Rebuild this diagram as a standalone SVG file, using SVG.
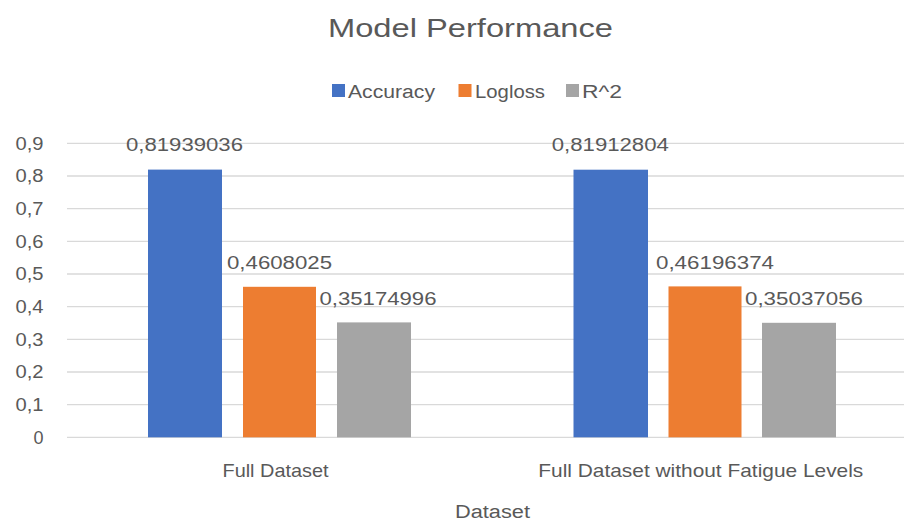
<svg xmlns="http://www.w3.org/2000/svg" width="904" height="521" viewBox="0 0 904 521">
  <style>
    text { font-family: "Liberation Sans", Arial, sans-serif; fill: #595959; }
    .grid { stroke: #D9D9D9; stroke-width: 1.3; }
    .ytick { font-size: 18px; text-anchor: end; }
    .dlab { font-size: 18px; text-anchor: middle; }
    .cat { font-size: 19px; text-anchor: middle; }
    .leg { font-size: 18px; }
    .acc { fill: #4472C4; }
    .log { fill: #ED7D31; }
    .r2 { fill: #A5A5A5; }
  </style>
  <rect width="904" height="521" fill="#FFFFFF"/>

  <g id="title">
    <text x="470.5" y="37" font-size="26" text-anchor="middle" textLength="285" lengthAdjust="spacingAndGlyphs">Model Performance</text>
  </g>

  <g id="legend">
    <rect class="acc" x="332" y="84" width="13" height="13"/>
    <text class="leg" x="348" y="98" textLength="87" lengthAdjust="spacingAndGlyphs">Accuracy</text>
    <rect class="log" x="458.5" y="84" width="13" height="13"/>
    <text class="leg" x="475" y="98" textLength="70" lengthAdjust="spacingAndGlyphs">Logloss</text>
    <rect class="r2" x="566" y="84" width="13" height="13"/>
    <text class="leg" x="582" y="98" textLength="40" lengthAdjust="spacingAndGlyphs">R^2</text>
  </g>

  <g id="gridlines">
    <line class="grid" x1="67" y1="437.3" x2="904" y2="437.3"/>
    <line class="grid" x1="67" y1="404.6" x2="904" y2="404.6"/>
    <line class="grid" x1="67" y1="372" x2="904" y2="372"/>
    <line class="grid" x1="67" y1="339.3" x2="904" y2="339.3"/>
    <line class="grid" x1="67" y1="306.6" x2="904" y2="306.6"/>
    <line class="grid" x1="67" y1="274" x2="904" y2="274"/>
    <line class="grid" x1="67" y1="241.3" x2="904" y2="241.3"/>
    <line class="grid" x1="67" y1="208.6" x2="904" y2="208.6"/>
    <line class="grid" x1="67" y1="176" x2="904" y2="176"/>
    <line class="grid" x1="67" y1="143.3" x2="904" y2="143.3"/>
  </g>

  <g id="y-axis">
    <text class="ytick" x="43.5" y="443.5">0</text>
    <text class="ytick" x="43.5" y="410.8" textLength="28" lengthAdjust="spacingAndGlyphs">0,1</text>
    <text class="ytick" x="43.5" y="378.2" textLength="28" lengthAdjust="spacingAndGlyphs">0,2</text>
    <text class="ytick" x="43.5" y="345.5" textLength="28" lengthAdjust="spacingAndGlyphs">0,3</text>
    <text class="ytick" x="43.5" y="312.8" textLength="28" lengthAdjust="spacingAndGlyphs">0,4</text>
    <text class="ytick" x="43.5" y="280.2" textLength="28" lengthAdjust="spacingAndGlyphs">0,5</text>
    <text class="ytick" x="43.5" y="247.5" textLength="28" lengthAdjust="spacingAndGlyphs">0,6</text>
    <text class="ytick" x="43.5" y="214.8" textLength="28" lengthAdjust="spacingAndGlyphs">0,7</text>
    <text class="ytick" x="43.5" y="182.2" textLength="28" lengthAdjust="spacingAndGlyphs">0,8</text>
    <text class="ytick" x="43.5" y="149.5" textLength="28" lengthAdjust="spacingAndGlyphs">0,9</text>
  </g>

  <g id="group-full-dataset">
    <rect class="acc" x="148" y="169.6" width="74" height="267.7"/>
    <rect class="log" x="243" y="286.8" width="73" height="150.5"/>
    <rect class="r2" x="337" y="322.4" width="74" height="114.9"/>
    <text class="dlab" x="184.5" y="151" textLength="117" lengthAdjust="spacingAndGlyphs">0,81939036</text>
    <text class="dlab" x="279.5" y="268.5" textLength="105" lengthAdjust="spacingAndGlyphs">0,4608025</text>
    <text class="dlab" x="378" y="304.5" textLength="117" lengthAdjust="spacingAndGlyphs">0,35174996</text>
    <text class="cat" x="275.5" y="477" textLength="106" lengthAdjust="spacingAndGlyphs">Full Dataset</text>
  </g>

  <g id="group-without-fatigue">
    <rect class="acc" x="573.5" y="169.7" width="74.5" height="267.6"/>
    <rect class="log" x="668.5" y="286.4" width="73" height="150.9"/>
    <rect class="r2" x="762" y="322.8" width="74" height="114.5"/>
    <text class="dlab" x="610.3" y="151" textLength="117" lengthAdjust="spacingAndGlyphs">0,81912804</text>
    <text class="dlab" x="715" y="268.5" textLength="118" lengthAdjust="spacingAndGlyphs">0,46196374</text>
    <text class="dlab" x="804" y="304.5" textLength="118" lengthAdjust="spacingAndGlyphs">0,35037056</text>
    <text class="cat" x="700.8" y="477" textLength="325" lengthAdjust="spacingAndGlyphs">Full Dataset without Fatigue Levels</text>
  </g>

  <g id="x-axis-title">
    <text x="492.5" y="518" font-size="18" text-anchor="middle" textLength="75" lengthAdjust="spacingAndGlyphs">Dataset</text>
  </g>
</svg>
